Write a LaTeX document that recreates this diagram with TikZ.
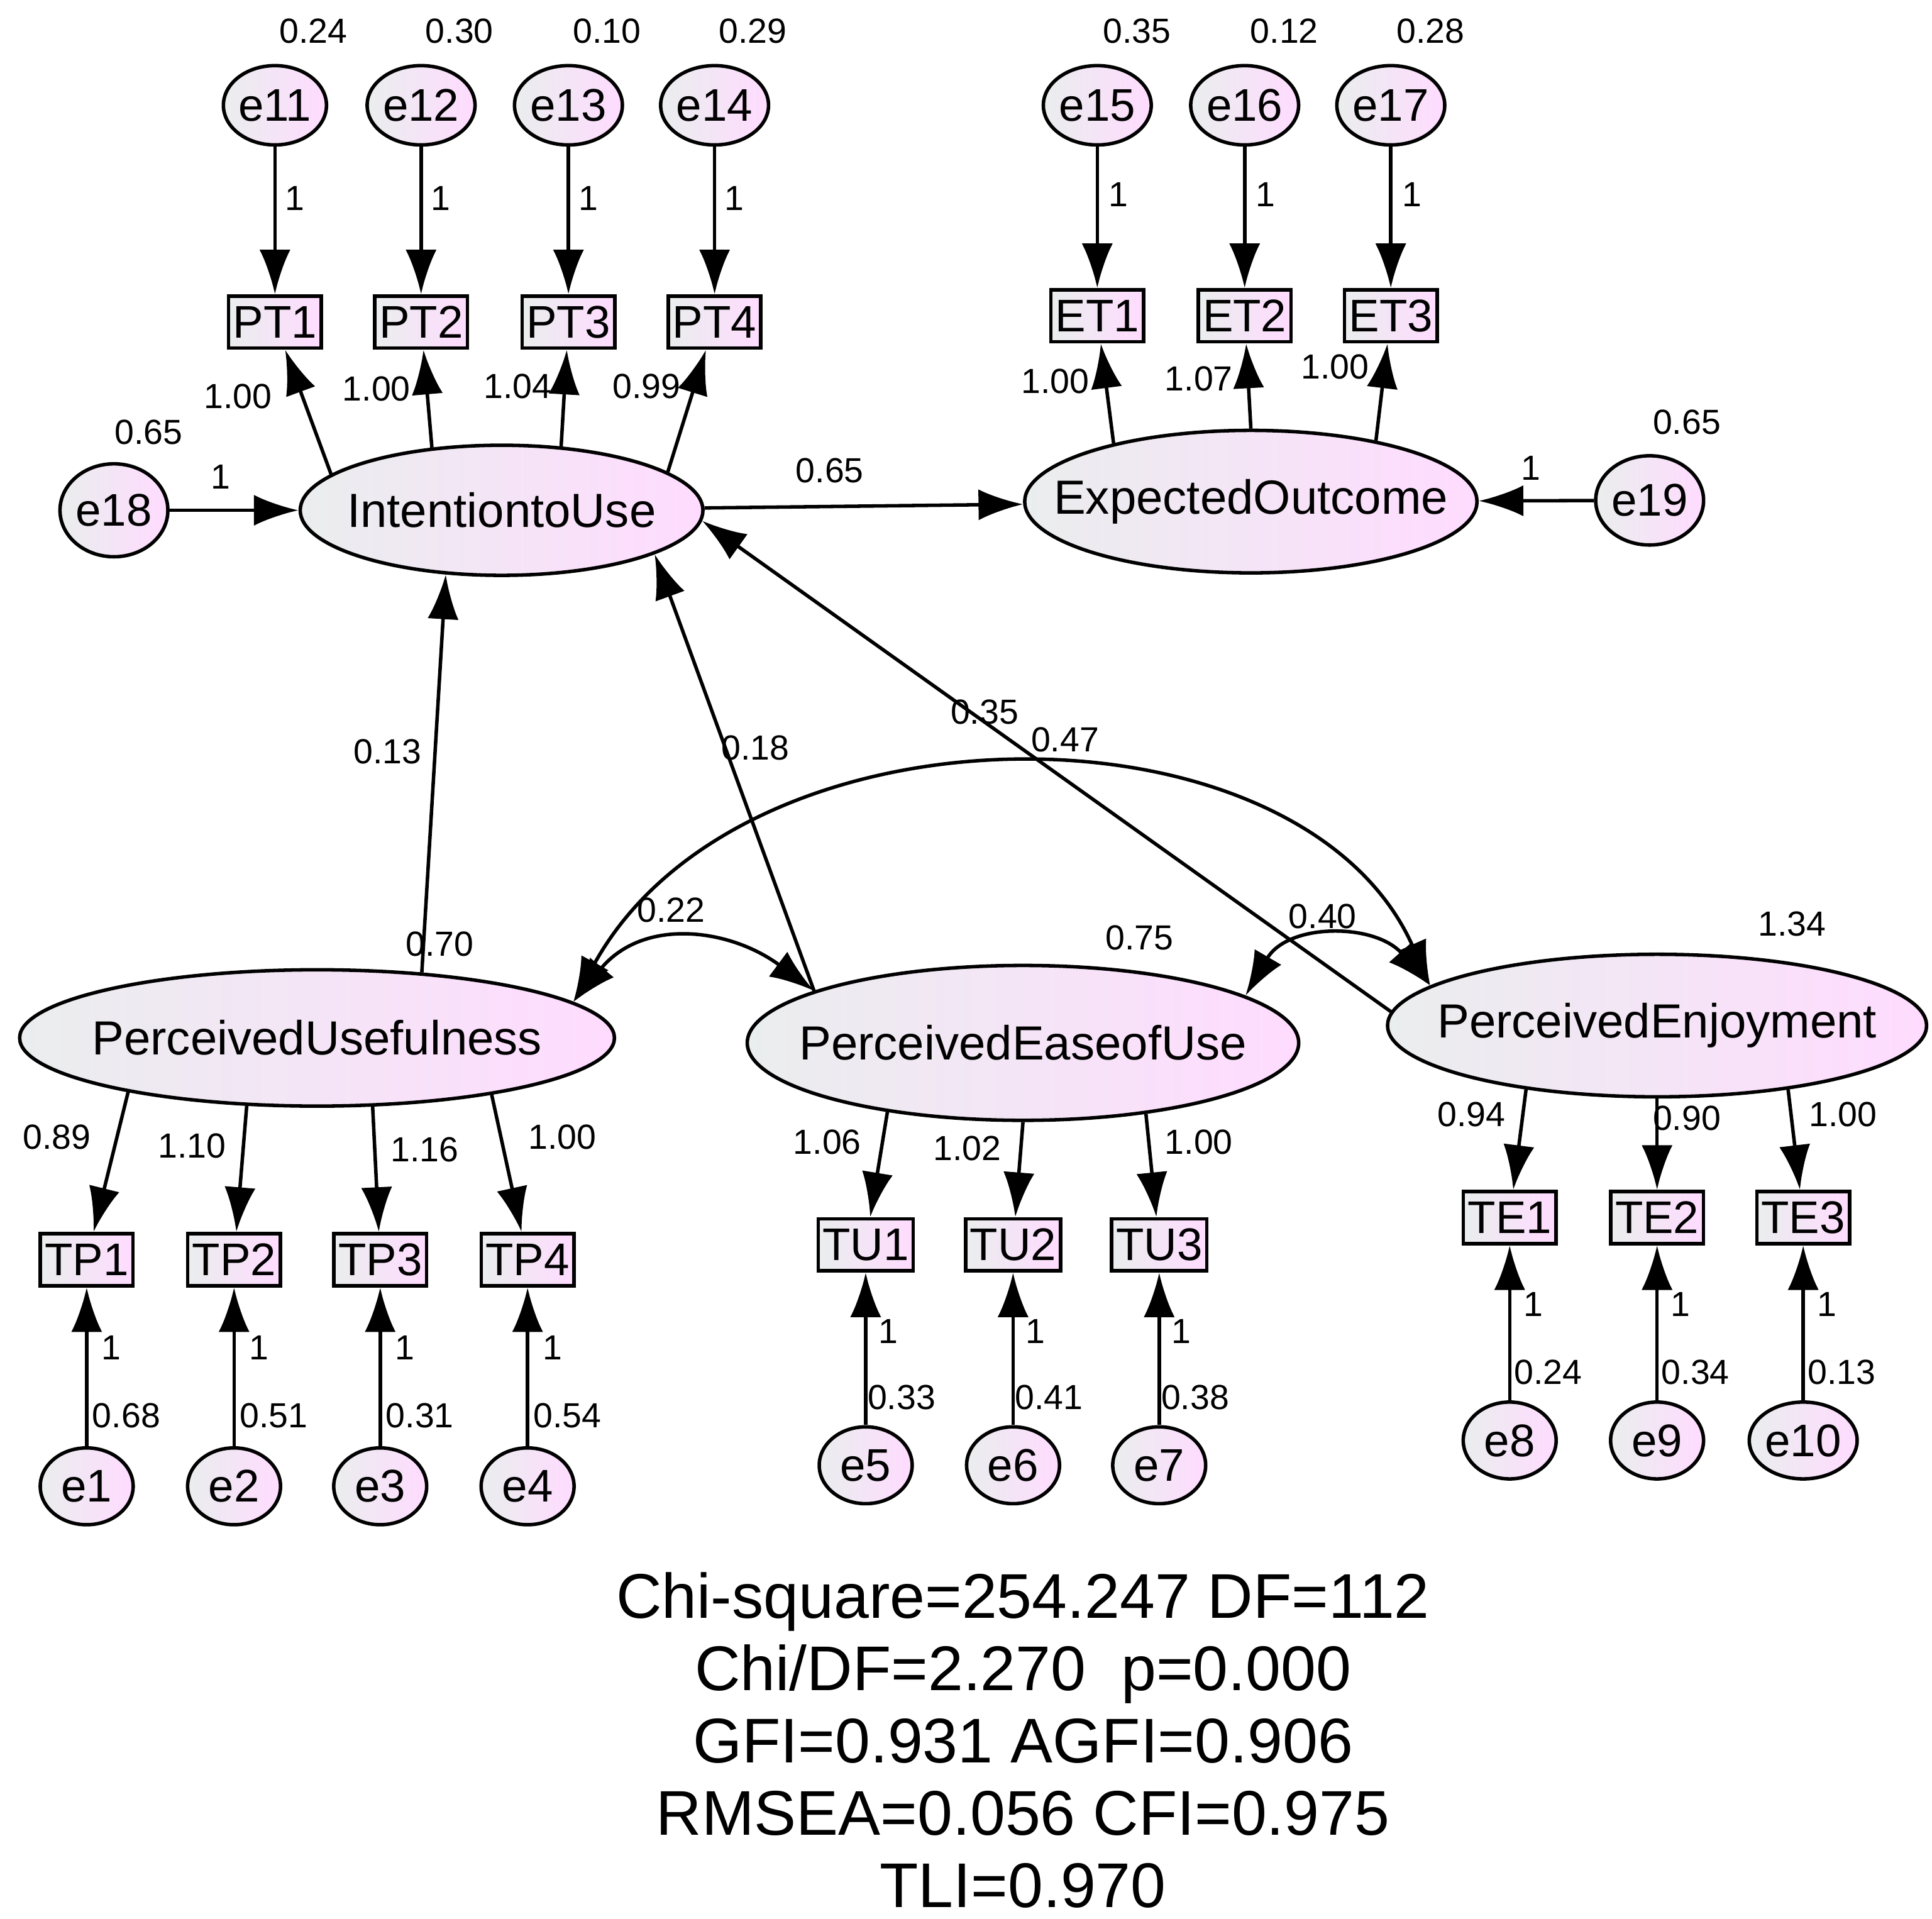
\documentclass[tikz,border=0pt]{standalone}
\usepackage{fontspec}
\setmainfont{Liberation Sans}
\usetikzlibrary{arrows.meta,shapes.geometric}

\tikzset{
  shade/.style={left color=cyan!10!gray!15, right color=magenta!14},
  err/.style={ellipse, draw, thick, shade, minimum width=0.8cm, minimum height=0.64cm, inner sep=0pt, font=\fontsize{10.5}{12}\selectfont},
  obs/.style={rectangle, draw, thick, shade, minimum width=0.7cm, minimum height=0.42cm, inner sep=1pt, font=\fontsize{10.5}{12}\selectfont},
  lat/.style={ellipse, draw, thick, shade, inner xsep=-0.6cm, inner ysep=-0.2cm, font=\fontsize{11}{12}\selectfont},
  lbl/.style={font=\fontsize{8}{9}\selectfont},
  path/.style={-{Latex[length=0.36cm,width=0.25cm]}, thick},
  cov/.style={{Latex[length=0.36cm,width=0.25cm]}-{Latex[length=0.36cm,width=0.25cm]}, thick}
}

\begin{document}
\begin{tikzpicture}[x=0.01cm,y=-0.01cm]
    \useasboundingbox (0,0) rectangle (1560,1549);

    % Latent variables
    \node[lat, minimum width=3.25cm, minimum height=1.05cm] (iu) at (405,412) {IntentiontoUse};
    \node[lat, minimum width=3.65cm, minimum height=1.15cm] (eo) at (1010,405) {ExpectedOutcome};
    \node[lat, minimum width=4.8cm, minimum height=1.1cm] (pu) at (256,838) {PerceivedUsefulness};
    \node[lat, minimum width=4.45cm, minimum height=1.25cm] (peou) at (826,842) {PerceivedEaseofUse};
    \node[lat, minimum width=4.35cm, minimum height=1.15cm] (pe) at (1338,828) {PerceivedEnjoyment};

    % Disturbances
    \node[err, minimum width=0.75cm, minimum height=0.75cm] (e18) at (92,412) {e18};
    \node[err, minimum width=0.72cm, minimum height=0.72cm] (e19) at (1332,404) {e19};
    \draw[path] (e18) -- (iu);
    \draw[path] (e19) -- (eo);
    \node[lbl] at (178,385) {1};
    \node[lbl] at (1236,378) {1};
    \node[lbl] at (120,349) {0.65};
    \node[lbl] at (1362,341) {0.65};

    % Indicators of IntentiontoUse
    \foreach \i/\x/\a/\v/\w/\lx/\ly in {1/222/168/0.24/1.00/192/320, 2/340/138/0.30/1.00/304/314, 3/459/47/0.10/1.04/418/312, 4/577/13/0.29/0.99/522/312}{
      \node[err] (e1\i) at (\x,85) {e1\i};
      \node[obs] (pt\i) at (\x,260) {PT\i};
      \draw[path] (e1\i) -- (pt\i);
      \draw[path] (iu.\a) -- (pt\i);
      \node[lbl] at (\x+16,160) {1};
      \node[lbl] at (\x+31,25) {\v};
      \node[lbl] at (\lx,\ly) {\w};
    }

    % Indicators of ExpectedOutcome
    \foreach \i/\x/\a/\v/\w/\lx/\ly in {1/886/157/0.35/1.00/852/308, 2/1005/90/0.12/1.07/968/306, 3/1123/26/0.28/1.00/1078/296}{
      \pgfmathtruncatemacro\k{14+\i}
      \node[err] (e\k) at (\x,85) {e\k};
      \node[obs] (et\i) at (\x,255) {ET\i};
      \draw[path] (e\k) -- (et\i);
      \draw[path] (eo.\a) -- (et\i);
      \node[lbl] at (\x+17,157) {1};
      \node[lbl] at (\x+32,25) {\v};
      \node[lbl] at (\lx,\ly) {\w};
    }

    % Indicators of PerceivedUsefulness
    \foreach \i/\x/\a/\v/\w/\lx/\ly in {1/70/196/0.68/0.89/46/918, 2/189/224/0.51/1.10/155/925, 3/307/309/0.31/1.16/343/928, 4/426/342/0.54/1.00/454/918}{
      \node[obs] (tp\i) at (\x,1017) {TP\i};
      \node[err, minimum width=0.75cm, minimum height=0.62cm] (e\i) at (\x,1200) {e\i};
      \draw[path] (pu.\a) -- (tp\i);
      \draw[path] (e\i) -- (tp\i);
      \node[lbl] at (\x+20,1088) {1};
      \node[lbl] at (\x+32,1143) {\v};
      \node[lbl] at (\lx,\ly) {\w};
    }

    % Indicators of PerceivedEaseofUse
    \foreach \i/\x/\a/\v/\w/\lx/\ly in {1/699/207/0.33/1.06/668/922, 2/818/270/0.41/1.02/781/927, 3/936/330/0.38/1.00/968/922}{
      \pgfmathtruncatemacro\k{4+\i}
      \node[obs] (tu\i) at (\x,1005) {TU\i};
      \node[err, minimum width=0.75cm, minimum height=0.62cm] (e\k) at (\x,1183) {e\k};
      \draw[path] (peou.\a) -- (tu\i);
      \draw[path] (e\k) -- (tu\i);
      \node[lbl] at (\x+18,1075) {1};
      \node[lbl] at (\x+29,1128) {\v};
      \node[lbl] at (\lx,\ly) {\w};
    }

    % Indicators of PerceivedEnjoyment
    \foreach \i/\x/\a/\v/\w/\lx/\ly in {1/1219/206/0.24/0.94/1188/900, 2/1338/270/0.34/0.90/1362/903, 3/1456/334/0.13/1.00/1488/900}{
      \pgfmathtruncatemacro\k{7+\i}
      \node[obs] (te\i) at (\x,983) {TE\i};
      \node[err, minimum width=0.75cm, minimum height=0.62cm] (e\k) at (\x,1163) {e\k};
      \draw[path] (pe.\a) -- (te\i);
      \draw[path] (e\k) -- (te\i);
      \node[lbl] at (\x+19,1053) {1};
      \node[lbl] at (\x+31,1108) {\v};
      \node[lbl] at (\lx,\ly) {\w};
    }

    % Structural paths
    \draw[path] (iu) -- (eo);
    \draw[path] (pu.32) -- (iu.229);
    \draw[path] (peou.166) -- (iu.344);
    \draw[path] (pe.177) -- (iu.357);
    \node[lbl] at (670,380) {0.65};
    \node[lbl] at (313,607) {0.13};
    \node[lbl] at (610,604) {0.18};
    \node[lbl] at (795,575) {0.35};

    % Covariances
    \draw[cov] (pu.8) .. controls (600,560) and (1050,560) .. (pe.170);
    \draw[cov] (pu.8) .. controls (520,740) and (590,750) .. (peou.166);
    \draw[cov] (peou.12) .. controls (1040,745) and (1110,745) .. (pe.170);
    \node[lbl] at (860,597) {0.47};
    \node[lbl] at (542,735) {0.22};
    \node[lbl] at (1068,740) {0.40};

    % Variances of exogenous latents
    \node[lbl] at (355,762) {0.70};
    \node[lbl] at (920,757) {0.75};
    \node[lbl] at (1447,746) {1.34};

    % Fit indices
    \node[align=center, font=\fontsize{14.5}{16.6}\selectfont] (fit) at (826,1405) {Chi-square=254.247 DF=112\\ Chi/DF=2.270\ \ p=0.000\\ GFI=0.931 AGFI=0.906\\ RMSEA=0.056 CFI=0.975\\ TLI=0.970};
\end{tikzpicture}
\end{document}
